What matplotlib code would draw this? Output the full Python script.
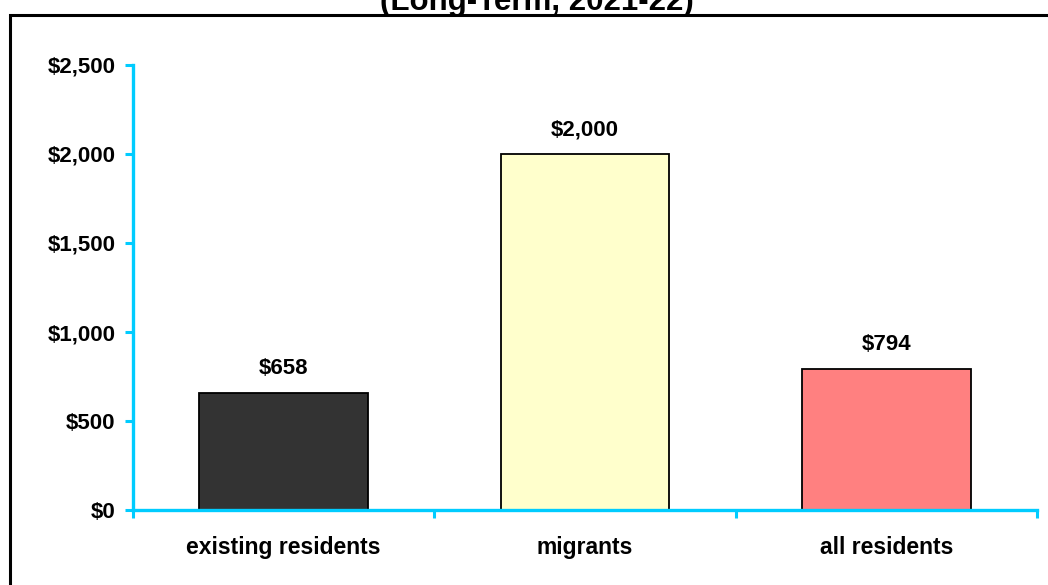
import numpy as np
import matplotlib
matplotlib.use('Agg')
import matplotlib.pyplot as plt
from matplotlib.patches import Rectangle
from matplotlib.ticker import FuncFormatter, FixedLocator

plt.rcParams['font.family'] = ['Liberation Sans', 'DejaVu Sans']
plt.rcParams['font.weight'] = 'bold'

categories = ['existing residents', 'migrants', 'all residents']
values = [658, 2000, 794]
bar_colors = ['#333333', '#FFFFCC', '#FF8080']
y_ticks = [0, 500, 1000, 1500, 2000, 2500]
subtitle = '(Long-Term, 2021-22)'

axis_blue = '#00CCFF'

fig = plt.figure(figsize=(10.48, 5.85), dpi=100)
ax = fig.add_axes([133 / 1048, 1 - 510 / 585, (1037 - 133) / 1048, (510 - 65) / 585])

x = np.arange(len(categories))
bars = ax.bar(x, values, width=0.56, color=bar_colors, edgecolor='black', linewidth=1.3, zorder=2)

for xi, v in zip(x, values):
    ax.annotate(f'${v:,}', xy=(xi, v), xytext=(0, 10), textcoords='offset points',
                ha='center', va='bottom', fontsize=16, fontweight='bold')

ax.set_xlim(-0.5, len(categories) - 0.5)
ax.set_ylim(0, 2500)

# ticks sit on the category boundaries, labels under the bar centres
ax.xaxis.set_major_locator(FixedLocator(np.arange(len(categories) + 1) - 0.5))
ax.xaxis.set_minor_locator(FixedLocator(x))
ax.set_xticklabels([], minor=False)
ax.set_xticklabels(categories, minor=True, fontsize=16.5, fontweight='bold')
ax.tick_params(axis='x', which='major', direction='out', length=6, width=2.2, color=axis_blue)
ax.tick_params(axis='x', which='minor', length=0, pad=19)

ax.set_yticks(y_ticks)
ax.yaxis.set_major_formatter(FuncFormatter(lambda v, p: f'${int(v):,}'))
ax.tick_params(axis='y', direction='out', length=6, width=2.2, color=axis_blue, pad=6.5, labelsize=16)
for lbl in ax.get_yticklabels():
    lbl.set_fontweight('bold')

for side in ['top', 'right']:
    ax.spines[side].set_visible(False)
for side in ['left', 'bottom']:
    ax.spines[side].set_color(axis_blue)
    ax.spines[side].set_linewidth(2.4)
    ax.spines[side].set_zorder(3)

# outer frame around the chart
fig.patches.append(Rectangle((10 / 1048, -0.2), 1.2, 1.2 - 15 / 585,
                             transform=fig.transFigure, fill=False,
                             edgecolor='black', linewidth=2.2))

fig.text(537 / 1048, 1 - 10 / 585, subtitle, ha='center', va='baseline',
         fontsize=22.5, fontweight='bold')

fig.savefig('out.png', dpi=100)
